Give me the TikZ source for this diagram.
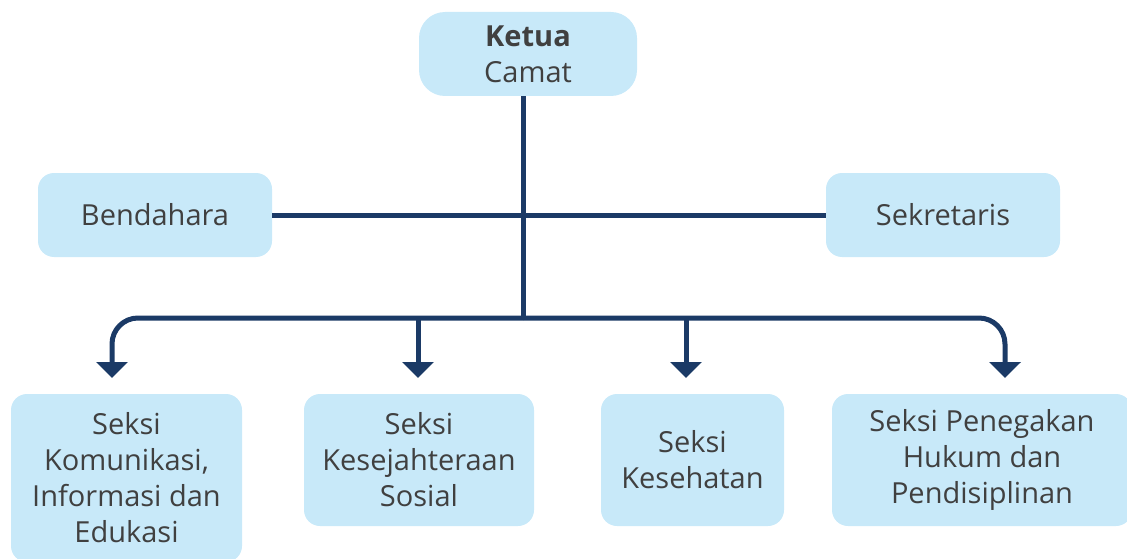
\documentclass[tikz,border=0pt]{standalone}
\usepackage{fontspec}
\setmainfont{Open Sans}
\usepackage{xcolor}
\usetikzlibrary{arrows.meta}
\definecolor{boxblue}{HTML}{C8E9F9}
\definecolor{navy}{HTML}{1B3A66}
\definecolor{textgray}{HTML}{404040}

\begin{document}
\begin{tikzpicture}[x=1pt,y=-1pt]
    \def\by{460}
    \def\busy{318}
    \def\tipy{378}

    \tikzstyle{unit}=[fill=boxblue,rounded corners=16pt,text=textgray,align=center,
        font=\fontsize{29}{36}\selectfont,inner sep=0pt]
    \tikzstyle{top}=[unit,rounded corners=26pt,minimum width=218pt,minimum height=84pt]
    \tikzstyle{side}=[unit,minimum width=234pt,minimum height=84pt]
    \tikzstyle{seksi}=[unit,minimum height=132pt]

    \useasboundingbox (0,0) rectangle (1127,559);

    \node[top]  (ketua) at (528,54) {\textbf{Ketua}\\Camat};
    \node[side] (bend) at (155,215) {Bendahara};
    \node[side] (sekr) at (943,215) {Sekretaris};

    \node[seksi,minimum width=231pt,minimum height=168pt] (s1) at (126.5,478) {Seksi\\Komunikasi,\\Informasi dan\\Edukasi};
    \node[seksi,minimum width=230pt] (s2) at (419,\by) {Seksi\\Kesejahteraan\\Sosial};
    \node[seksi,minimum width=183pt] (s3) at (692.5,\by) {Seksi\\Kesehatan};
    \node[seksi,minimum width=300pt] (s4) at (982,\by) {Seksi Penegakan\\Hukum dan\\Pendisiplinan};

    \coordinate (bus) at (523,\busy);
    \coordinate (t1) at (112,\tipy);
    \coordinate (t2) at (418,\tipy);
    \coordinate (t3) at (686,\tipy);
    \coordinate (t4) at (1005,\tipy);

    \tikzstyle{conn} = [draw=navy, line width=5pt]
    \tikzstyle{arr} = [conn, -{Triangle[width=31pt,length=16pt]}]

    \draw [conn] (ketua.south -| bus) -- (bus);
    \draw [conn] (bend.east) -- (sekr.west);
    \draw [arr, rounded corners=26pt] (bus) -| (t1);
    \draw [arr, rounded corners=26pt] (bus) -| (t4);
    \draw [arr] (t2 |- bus) -- (t2);
    \draw [arr] (t3 |- bus) -- (t3);
\end{tikzpicture}
\end{document}
